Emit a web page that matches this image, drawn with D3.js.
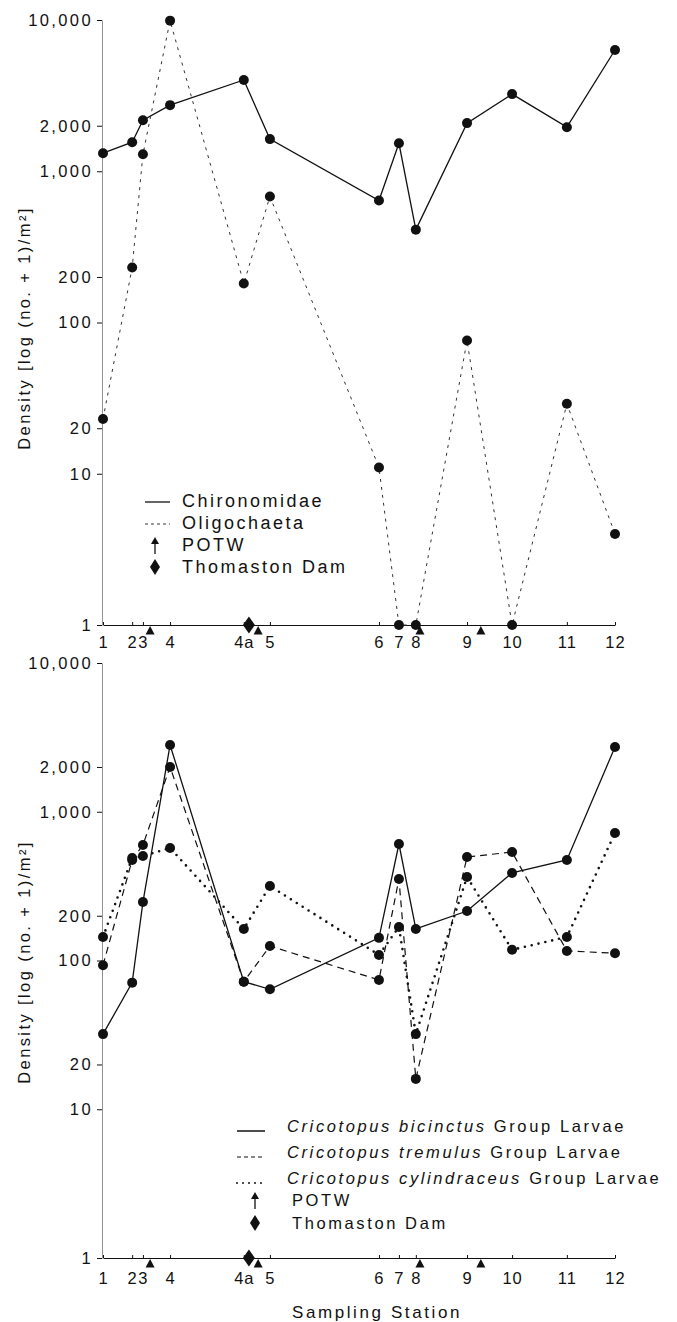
<!DOCTYPE html>
<html><head><meta charset="utf-8">
<script src="https://cdn.jsdelivr.net/npm/d3@7"></script>
<style>
body{margin:0;background:#fff}
text{font-family:"Liberation Sans",Arial,sans-serif;fill:#111}
</style>
</head><body>
<svg id="c" width="677" height="1322"></svg>
<script>
// ---------- data ----------
const stations   = ["1","2","3","4","4a","5","6","7","8","9","10","11","12"];
// relative position of each station along the river (0..100)
const stationPos = [0, 5.7, 7.8, 13.1, 27.5, 32.6, 53.9, 57.8, 61.1, 71.1, 79.9, 90.6, 100];
const potwPos    = [9.2, 30.3, 61.9, 73.8];
const damPos     = [28.5];
const yTicks     = [1, 10, 20, 100, 200, 1000, 2000, 10000];

// densities (no./m2); plotted as log(no.+1)
const chironomidae = [1315, 1555, 2175, 2735, 4010, 1630, 640, 1530, 410, 2080, 3235, 1955, 6330];
const oligochaeta  = [22, 230, 1295, 9900, 180, 680, 10, 0, 0, 75, 0, 28, 3];

const bicinctus    = [31, 70, 246, 2810, 71, 63, 141, 606, 162, 214, 387, 473, 2725];
const tremulus     = [92, 473, 597, 2000, 71, 124, 73, 352, 15, 495, 535, 115, 111];
const cylindraceus = [143, 488, 503, 570, 162, 316, 108, 167, 31, 363, 117, 143, 719];

// ---------- drawing ----------
const svg = d3.select("#c");
const x = d3.scaleLinear().domain([0, 100]).range([103, 615]);
const INK = "#111";

function panel(cfg) {
  const y = d3.scaleLog().domain([1, 10000]).range([cfg.y0, cfg.y1]);
  const g = svg.append("g");

  // y axis
  const ya = g.append("g").attr("transform", "translate(102,0)")
    .call(d3.axisLeft(y).tickValues(yTicks).tickFormat(d3.format(","))
      .tickSize(5).tickSizeOuter(0).tickPadding(4));
  ya.select(".domain").attr("stroke", "#777").attr("stroke-width", 0.8);
  ya.selectAll(".tick line").attr("stroke", INK).attr("stroke-width", 1);
  ya.selectAll(".tick text").style("font-size", "16.5px").style("letter-spacing", "2.4px").attr("fill", INK);

  // x axis
  const xa = g.append("g").attr("transform", `translate(0,${cfg.y0})`)
    .call(d3.axisBottom(x).tickValues(stationPos).tickFormat((d, i) => stations[i])
      .tickSize(-3).tickSizeOuter(0).tickPadding(cfg.xPad));
  xa.select(".domain").attr("stroke", INK).attr("stroke-width", 1.2);
  xa.selectAll(".tick line").attr("stroke", INK);
  xa.selectAll(".tick text").style("font-size", "16.5px").style("letter-spacing", "1px").attr("fill", INK);

  // y title
  g.append("text")
    .attr("transform", `translate(30,${cfg.titleY}) rotate(-90)`)
    .attr("text-anchor", "middle")
    .style("font-size", "16.5px").style("letter-spacing", "2.4px")
    .text("Density [log (no. + 1)/m²]");

  // series
  const line = d3.line().x((d, i) => x(stationPos[i])).y(d => y(d + 1));
  cfg.series.forEach(s => {
    g.append("path").datum(s.values).attr("d", line)
      .attr("fill", "none").attr("stroke", s.color || INK)
      .attr("stroke-width", s.width)
      .attr("stroke-dasharray", s.dash || null)
      .attr("stroke-linecap", s.cap || "butt");
    g.selectAll(null).data(s.values).enter().append("circle")
      .attr("cx", (d, i) => x(stationPos[i])).attr("cy", d => y(d + 1))
      .attr("r", 5).attr("fill", INK);
  });

  // POTW markers
  g.selectAll(null).data(potwPos).enter().append("path")
    .attr("d", d => `M${x(d)},${cfg.y0 + 1}l4.5,8.5h-9z`)
    .attr("fill", INK);
  // Thomaston Dam
  g.selectAll(null).data(damPos).enter().append("path")
    .attr("d", d => `M${x(d)},${cfg.y0 - 8.5}l6,8.5l-6,8.5l-6,-8.5z`)
    .attr("fill", INK);

  // legend
  const L = cfg.legend;
  L.rows.forEach((r, i) => {
    const by = L.baselines[i];
    const lg = g.append("g");
    if (r.type === "line") {
      lg.append("line").attr("x1", L.lx0).attr("x2", L.lx1)
        .attr("y1", by - L.lineOff).attr("y2", by - L.lineOff)
        .attr("stroke", r.color || INK).attr("stroke-width", r.width)
        .attr("stroke-dasharray", r.dash || null).attr("stroke-linecap", r.cap || "butt");
    } else if (r.type === "potw") {
      const cx = L.symX;
      lg.append("path").attr("d", `M${cx},${by - 14}l4,7h-8z`).attr("fill", INK);
      lg.append("line").attr("x1", cx).attr("x2", cx).attr("y1", by - 8).attr("y2", by + 3)
        .attr("stroke", INK).attr("stroke-width", 1.3);
    } else if (r.type === "dam") {
      const cx = L.symX, cy = by - 6;
      lg.append("path").attr("d", `M${cx},${cy - 8}l5,8l-5,8l-5,-8z`).attr("fill", INK);
    }
    const t = lg.append("text").attr("x", r.type === "line" ? L.tx : L.tx2).attr("y", by)
      .style("font-size", L.size).style("letter-spacing", L.ls);
    r.parts.forEach(p => t.append("tspan").style("font-style", p.it ? "italic" : "normal").text(p.t));
  });
}

panel({
  y0: 625, y1: 20, xPad: 11, titleY: 328,
  series: [
    {values: chironomidae, width: 1.3},
    {values: oligochaeta, width: 1, dash: "3 5", color: "#333"}
  ],
  legend: {
    lx0: 145, lx1: 170, tx: 182, tx2: 182, symX: 155, lineOff: 5,
    size: "18px", ls: "2.5px",
    baselines: [507, 529, 551, 573],
    rows: [
      {type: "line", width: 1.3, parts: [{t: "Chironomidae"}]},
      {type: "line", width: 1, dash: "3 3", color: "#333", parts: [{t: "Oligochaeta"}]},
      {type: "potw", parts: [{t: "POTW"}]},
      {type: "dam", parts: [{t: "Thomaston Dam"}]}
    ]
  }
});

panel({
  y0: 1258, y1: 663, xPad: 14, titleY: 962,
  series: [
    {values: bicinctus, width: 1.3},
    {values: tremulus, width: 1.2, dash: "7 5"},
    {values: cylindraceus, width: 2.6, dash: "0 7", cap: "round"}
  ],
  legend: {
    lx0: 237, lx1: 265, tx: 287, tx2: 292, symX: 255, lineOff: 1,
    size: "16.5px", ls: "2.6px",
    baselines: [1132, 1158, 1184, 1206, 1229],
    rows: [
      {type: "line", width: 1.5, parts: [{t: "Cricotopus bicinctus", it: true}, {t: " Group Larvae"}]},
      {type: "line", width: 1.2, dash: "4 3", parts: [{t: "Cricotopus tremulus", it: true}, {t: " Group Larvae"}]},
      {type: "line", width: 2, dash: "0 6", cap: "round", parts: [{t: "Cricotopus cylindraceus", it: true}, {t: " Group Larvae"}]},
      {type: "potw", parts: [{t: "POTW"}]},
      {type: "dam", parts: [{t: "Thomaston Dam"}]}
    ]
  }
});

svg.append("text").attr("x", 377).attr("y", 1318).attr("text-anchor", "middle")
  .style("font-size", "17px").style("letter-spacing", "2.6px").text("Sampling Station");
</script>
</body></html>
